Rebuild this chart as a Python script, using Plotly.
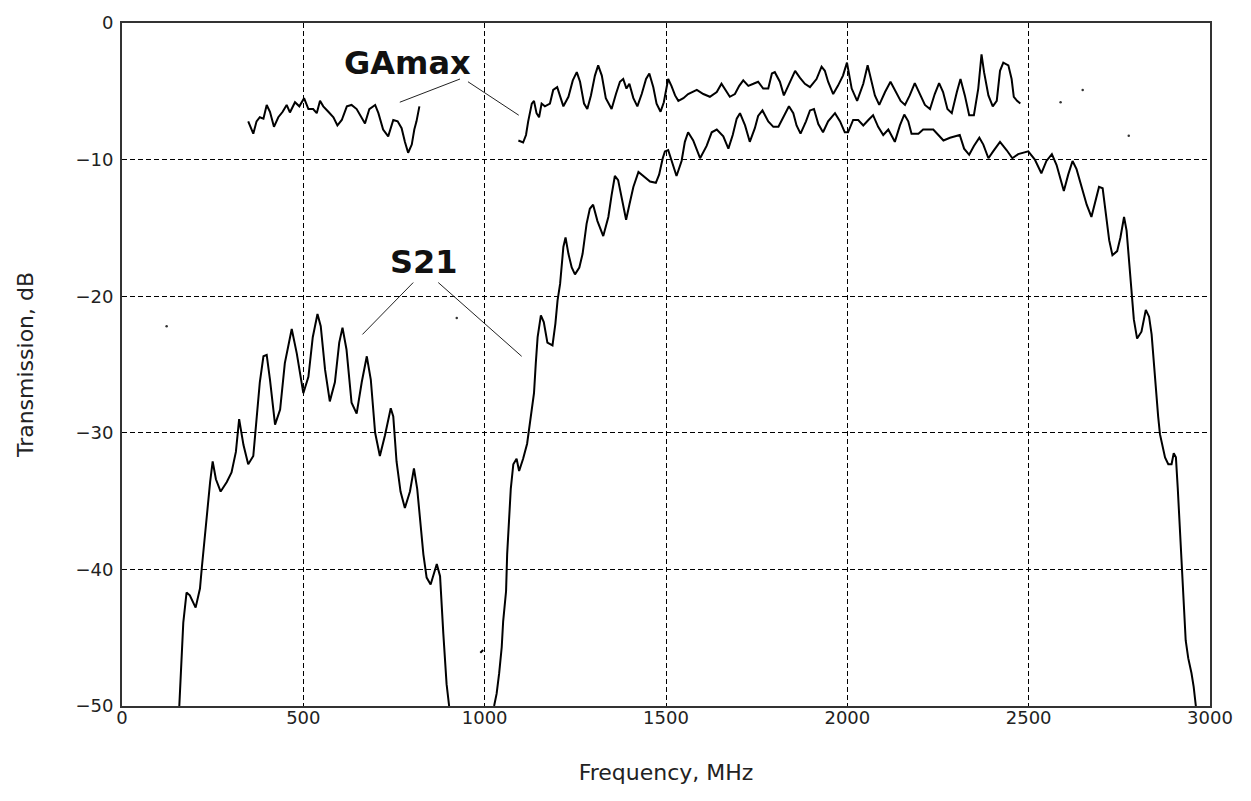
import plotly.graph_objects as go

# ---------------- data ----------------
s21_left_f = [158, 165, 169, 178, 187, 203, 215, 220, 226, 233, 240, 243, 250, 259, 272, 289, 302, 314, 323, 335,
              348, 362, 371, 380, 390, 399, 408, 422, 436, 449, 468, 482, 500, 514, 526, 539, 548, 560, 573, 587,
              599, 608, 619, 633, 647, 661, 675, 686, 698, 711, 725, 741, 748, 757, 768, 780, 794, 805, 814, 822,
              831, 840, 851, 868, 877, 886, 895, 902]
s21_left_db = [-50, -46.2, -43.9, -41.7, -41.9, -42.8, -41.4, -39.9, -38.2, -36.4, -34.8, -33.6, -32.1, -33.4, -34.3,
               -33.6, -32.9, -31.4, -29.0, -30.9, -32.3, -31.7, -29.0, -26.3, -24.4, -24.3, -26.1, -29.4, -28.3,
               -24.9, -22.4, -24.2, -27.1, -25.9, -23.0, -21.3, -22.2, -25.4, -27.7, -26.3, -23.4, -22.3, -23.9,
               -27.8, -28.6, -26.3, -24.4, -26.1, -30.0, -31.7, -30.2, -28.2, -28.8, -32.1, -34.3, -35.5, -34.3,
               -32.6, -34.1, -36.3, -38.9, -40.6, -41.1, -39.6, -40.5, -44.7, -48.4, -50]

s21_frag_f = [988, 996]
s21_frag_db = [-46.1, -45.9]

s21_right_f = [1026, 1033, 1040, 1047, 1051, 1059, 1062, 1068, 1072, 1079, 1088, 1095, 1106, 1117, 1123, 1130, 1136,
               1141, 1146, 1155, 1163, 1173, 1187, 1195, 1201, 1208, 1212, 1217, 1223, 1231, 1240, 1249, 1261, 1270,
               1281, 1290, 1299, 1311, 1327, 1341, 1350, 1359, 1368, 1378, 1390, 1399, 1410, 1424, 1437, 1456, 1472,
               1481, 1491, 1497, 1506, 1515, 1529, 1543, 1552, 1561, 1575, 1594, 1612, 1626, 1640, 1658, 1672, 1684,
               1695, 1704, 1718, 1731, 1745, 1754, 1766, 1782, 1796, 1810, 1828, 1839, 1851, 1860, 1871, 1886, 1897,
               1908, 1920, 1933, 1947, 1966, 1980, 1993, 2002, 2016, 2030, 2044, 2058, 2071, 2085, 2099, 2113, 2131,
               2145, 2157, 2168, 2177, 2196, 2209, 2223, 2237, 2251, 2265, 2283, 2297, 2310, 2322, 2336, 2349, 2364,
               2375, 2389, 2402, 2421, 2439, 2455, 2471, 2485, 2499, 2517, 2535, 2549, 2564, 2577, 2586, 2597, 2609,
               2621, 2632, 2646, 2660, 2673, 2682, 2694, 2704, 2713, 2722, 2731, 2744, 2753, 2763, 2770, 2777, 2784,
               2790, 2799, 2811, 2823, 2832, 2839, 2845, 2851, 2857, 2862, 2869, 2876, 2885, 2894, 2900, 2906, 2911,
               2917, 2922, 2928, 2933, 2940, 2949, 2955, 2961]
s21_right_db = [-50, -49.1, -47.6, -45.7, -43.8, -41.6, -38.9, -36.3, -34.1, -32.3, -31.9, -32.8, -31.9, -30.8, -29.7,
                -28.5, -27.1, -24.9, -23.0, -21.4, -21.9, -23.4, -23.6, -22.0, -20.3, -19.1, -17.8, -16.4, -15.7,
                -16.9, -17.9, -18.4, -17.9, -16.9, -14.7, -13.6, -13.3, -14.5, -15.6, -14.2, -12.6, -11.2, -11.5,
                -12.8, -14.4, -13.3, -12.0, -10.9, -11.2, -11.6, -11.7, -11.1, -9.9, -9.4, -9.3, -10.1, -11.2,
                -10.1, -8.7, -8.0, -8.6, -9.9, -9.0, -8.0, -7.8, -8.3, -9.2, -8.2, -7.0, -6.6, -7.5, -8.7, -7.7,
                -6.8, -6.4, -7.2, -7.6, -7.6, -6.6, -6.1, -6.6, -7.5, -8.1, -7.2, -6.4, -6.3, -7.4, -8.0, -7.2,
                -6.6, -7.2, -8.0, -8.0, -7.1, -7.1, -7.5, -7.1, -6.75, -7.6, -8.2, -7.8, -8.7, -7.5, -6.7, -7.2,
                -8.1, -8.1, -7.8, -7.8, -7.8, -8.2, -8.6, -8.4, -8.3, -8.2, -9.2, -9.65, -9.0, -8.4, -8.9, -9.9,
                -9.4, -8.7, -9.3, -9.9, -9.6, -9.5, -9.4, -10.0, -11.0, -10.1, -9.6, -10.4, -11.3, -12.3, -11.1,
                -10.1, -10.7, -12.1, -13.3, -14.2, -13.2, -12.0, -12.1, -14.1, -15.9, -17.0, -16.7, -15.7, -14.2,
                -15.2, -17.6, -20.1, -21.7, -23.1, -22.6, -21.0, -21.5, -22.8, -24.9, -27.1, -28.8, -30.1, -30.9,
                -31.8, -32.3, -32.3, -31.5, -31.8, -34.0, -36.9, -39.9, -42.8, -45.2, -46.5, -47.6, -48.6, -50]

gamax_left_f = [348, 362, 371, 380, 390, 399, 408, 419, 431, 443, 454, 463, 477, 489, 502, 514, 527, 537, 546, 555,
                569, 583, 594, 606, 620, 633, 647, 661, 670, 682, 698, 707, 720, 734, 748, 760, 771, 780, 789, 799,
                806, 812, 820]
gamax_left_db = [-7.2, -8.1, -7.2, -6.9, -7.0, -6.0, -6.5, -7.6, -6.9, -6.5, -6.0, -6.55, -5.8, -6.1, -5.5, -6.3,
                 -6.3, -6.6, -5.7, -6.1, -6.5, -6.9, -7.5, -7.1, -6.1, -6.0, -6.3, -7.0, -7.35, -6.3, -6.0, -6.6,
                 -7.8, -8.3, -7.1, -7.2, -7.7, -8.7, -9.5, -8.9, -7.8, -7.2, -6.1]

gamax_right_f = [1093, 1106, 1114, 1120, 1130, 1136, 1143, 1150, 1157, 1166, 1180, 1189, 1200, 1208, 1217, 1231, 1243,
                 1254, 1263, 1274, 1283, 1293, 1304, 1313, 1323, 1334, 1350, 1362, 1373, 1382, 1391, 1399, 1410, 1421,
                 1433, 1445, 1454, 1465, 1474, 1485, 1494, 1506, 1515, 1525, 1534, 1548, 1561, 1585, 1603, 1621, 1640,
                 1653, 1665, 1676, 1690, 1702, 1713, 1727, 1741, 1754, 1768, 1782, 1792, 1800, 1814, 1825, 1837, 1856,
                 1869, 1883, 1897, 1915, 1929, 1938, 1947, 1961, 1974, 1988, 1999, 2004, 2012, 2027, 2044, 2056, 2067,
                 2076, 2088, 2104, 2119, 2134, 2147, 2159, 2172, 2186, 2200, 2214, 2228, 2241, 2253, 2264, 2276, 2288,
                 2302, 2312, 2324, 2336, 2349, 2361, 2370, 2377, 2389, 2401, 2412, 2421, 2430, 2444, 2453, 2459, 2468,
                 2477]
gamax_right_db = [-8.6, -8.75, -8.2, -7.2, -5.9, -5.7, -6.6, -6.9, -5.9, -6.1, -5.9, -4.9, -4.7, -5.4, -6.1, -5.4,
                  -4.2, -3.6, -4.3, -5.9, -6.3, -5.3, -3.85, -3.1, -3.85, -5.5, -6.3, -5.2, -4.3, -4.1, -4.8, -4.45,
                  -5.5, -6.1, -5.2, -4.1, -3.7, -4.7, -5.9, -6.5, -5.8, -4.1, -4.6, -5.3, -5.7, -5.5, -5.2, -4.9,
                  -5.2, -5.4, -5.05, -4.45, -4.9, -5.4, -5.2, -4.6, -4.2, -4.6, -4.45, -4.3, -4.8, -4.8, -3.7, -3.6,
                  -4.3, -5.3, -4.6, -3.5, -4.0, -4.45, -4.7, -4.1, -3.2, -3.5, -4.3, -5.2, -4.6, -3.85, -2.9, -3.7,
                  -4.8, -5.7, -4.45, -3.1, -4.3, -5.3, -6.0, -5.05, -4.3, -5.05, -5.7, -6.0, -5.3, -4.4, -5.2, -6.0,
                  -6.3, -5.2, -4.4, -5.05, -6.3, -6.6, -5.05, -4.1, -5.3, -6.75, -6.75, -4.8, -2.3, -3.6, -5.3, -6.1,
                  -5.7, -3.5, -2.9, -3.1, -4.1, -5.4, -5.7, -5.9]

stray_f = [123, 923, 2588, 2649, 2776]
stray_db = [-22.2, -21.6, -5.8, -4.9, -8.25]

x_ticks = [0, 500, 1000, 1500, 2000, 2500, 3000]
y_ticks = [0, -10, -20, -30, -40, -50]

# labels with their leader lines (data coordinates)
gamax_label = ("GAmax", 786, -2.9)
gamax_leaders = [((932, -4.1), (766, -5.8)), ((954, -4.3), (1094, -6.75))]
s21_label = ("S21", 833, -17.5)
s21_leaders = [((803, -19.0), (663, -22.8)), ((872, -19.0), (1102, -24.4))]

# ---------------- figure ----------------
line_style = dict(color="black", width=2)
fig = go.Figure()
for fx, fy in [(s21_left_f, s21_left_db), (s21_frag_f, s21_frag_db), (s21_right_f, s21_right_db),
               (gamax_left_f, gamax_left_db), (gamax_right_f, gamax_right_db)]:
    fig.add_trace(go.Scatter(x=fx, y=fy, mode="lines", line=line_style, showlegend=False, hoverinfo="skip"))
fig.add_trace(go.Scatter(x=stray_f, y=stray_db, mode="markers",
                         marker=dict(color="#333", size=2.5), showlegend=False, hoverinfo="skip"))

for (x0, y0), (x1, y1) in gamax_leaders + s21_leaders:
    fig.add_shape(type="line", x0=x0, y0=y0, x1=x1, y1=y1, xref="x", yref="y",
                  line=dict(color="#222", width=1))

for txt, lx, ly in [gamax_label, s21_label]:
    fig.add_annotation(x=lx, y=ly, text="<b>%s</b>" % txt, showarrow=False, xref="x", yref="y",
                       font=dict(family="DejaVu Sans", size=32, color="#111"))

axis_common = dict(showgrid=True, gridcolor="black", gridwidth=1, griddash="5px,3px",
                   showline=True, linecolor="#333", linewidth=2, mirror=True, zeroline=False,
                   ticks="", tickfont=dict(family="DejaVu Sans", size=18, color="#222"),
                   title_font=dict(family="DejaVu Sans", size=22, color="#222"))

fig.update_xaxes(range=[0, 3000], tickvals=x_ticks, ticktext=[str(v) for v in x_ticks],
                 title_text="Frequency, MHz", title_standoff=38, ticklabelstandoff=-6, **axis_common)
fig.update_yaxes(range=[-50, 0], tickvals=y_ticks, ticktext=[str(v).replace("-", "\u2212") for v in y_ticks],
                 title_text="Transmission, dB", title_standoff=36, ticklabelstandoff=3, **axis_common)

fig.update_layout(width=1251, height=801, margin=dict(l=122, r=41, t=17, b=95),
                  plot_bgcolor="white", paper_bgcolor="white")

fig.write_html("out.html")
